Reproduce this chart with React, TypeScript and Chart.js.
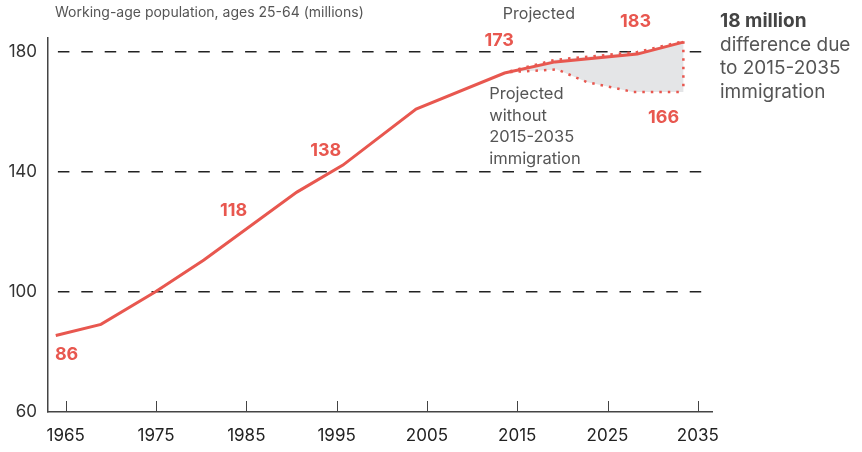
import React, { useEffect, useRef } from "react";
import { Chart, registerables } from "chart.js";

Chart.register(...registerables);

// Solid line (history + projection)
const lineYears = [1963.9, 1968.9, 1974.9, 1980.3, 1990.6, 1995.7, 2003.8, 2013.6, 2019.2, 2028.3, 2033.4];
const lineValues = [85.5, 89.2, 100, 110.7, 133.3, 142.3, 161, 173, 176.7, 179.3, 183.3];

// Projected with immigration (dotted, upper)
const projYears = [2014.2, 2019.2, 2028.3, 2033.4];
const projValues = [173.6, 177.4, 180.0, 183.6];

// Projected without 2015-2035 immigration (dotted, lower)
const noImmYears = [2014.2, 2019.4, 2022.7, 2027.8, 2033.4];
const noImmValues = [173.3, 174.2, 170.0, 166.7, 166.7];

const xTickYears = [1965, 1975, 1985, 1995, 2005, 2015, 2025, 2035];
const yTickValues = [60, 100, 140, 180];

// value labels: [text, year, value]
const valueLabels: [string, number, number][] = [
  ["86", 1965.1, 79],
  ["118", 1983.6, 127],
  ["138", 1993.8, 147],
  ["173", 2013.0, 183.7],
  ["183", 2028.1, 190.3],
  ["166", 2031.2, 158],
];

const RED = "#e8574f";
const FONT = "Inter, 'Open Sans', sans-serif";

const toPts = (xs: number[], ys: number[]) => xs.map((x, i) => ({ x, y: ys[i] }));

export default function App() {
  const ref = useRef<HTMLCanvasElement>(null);

  useEffect(() => {
    const canvas = ref.current!;
    const annot = {
      id: "annot",
      beforeDatasetsDraw(chart: any) {
        const { ctx, scales } = chart;
        const xs = scales.x, ys = scales.y;
        ctx.save();
        ctx.beginPath();
        projYears.forEach((yr, i) => {
          const px = xs.getPixelForValue(yr), py = ys.getPixelForValue(projValues[i]);
          if (i === 0) ctx.moveTo(px, py); else ctx.lineTo(px, py);
        });
        for (let i = noImmYears.length - 1; i >= 0; i--) {
          ctx.lineTo(xs.getPixelForValue(noImmYears[i]), ys.getPixelForValue(noImmValues[i]));
        }
        ctx.closePath();
        ctx.fillStyle = "#e4e5e7";
        ctx.fill();
        ctx.restore();
      },
      afterDraw(chart: any) {
        const { ctx, scales, chartArea } = chart;
        const xs = scales.x, ys = scales.y;
        ctx.save();
        // tick marks pointing up into chart
        ctx.strokeStyle = "#444";
        ctx.lineWidth = 1;
        xTickYears.forEach((yr) => {
          const px = Math.round(xs.getPixelForValue(yr)) + 0.5;
          ctx.beginPath();
          ctx.moveTo(px, chartArea.bottom);
          ctx.lineTo(px, chartArea.bottom - 11);
          ctx.stroke();
        });
        // value labels
        ctx.fillStyle = RED;
        ctx.font = `bold 18px ${FONT}`;
        ctx.textAlign = "center";
        ctx.textBaseline = "middle";
        valueLabels.forEach(([t, yr, v]) => {
          ctx.fillText(t, xs.getPixelForValue(yr), ys.getPixelForValue(v));
        });
        // "Projected"
        ctx.fillStyle = "#555";
        ctx.font = `16px ${FONT}`;
        ctx.fillText("Projected", xs.getPixelForValue(2017.4), 14);
        // Projected without label
        ctx.textAlign = "left";
        ctx.font = `16.5px ${FONT}`;
        const lx = xs.getPixelForValue(2011.9);
        ["Projected", "without", "2015-2035", "immigration"].forEach((s, i) => {
          ctx.fillText(s, lx, 94 + i * 21.7);
        });
        // Title
        ctx.font = `14px ${FONT}`;
        ctx.fillStyle = "#555";
        ctx.fillText("Working-age population, ages 25-64 (millions)", 55, 13);
        // Right note
        ctx.fillStyle = "#444";
        ctx.font = `bold 19px ${FONT}`;
        ctx.fillText("18 million", 720, 21);
        ctx.fillStyle = "#555";
        ctx.font = `19px ${FONT}`;
        ["difference due", "to 2015-2035", "immigration"].forEach((s, i) => {
          ctx.fillText(s, 720, 45 + i * 23.7);
        });
        ctx.restore();
      },
    };

    const chart = new Chart(canvas, {
      type: "line",
      data: {
        datasets: [
          {
            data: toPts(noImmYears, noImmValues),
            borderColor: RED,
            borderWidth: 2.5,
            borderDash: [2.5, 6],
            pointRadius: 0,
            fill: false,
          },
          {
            data: toPts(projYears, projValues),
            borderColor: RED,
            borderWidth: 2.5,
            borderDash: [2.5, 6],
            pointRadius: 0,
            fill: false,
          },
          {
            data: [
              { x: noImmYears[noImmYears.length - 1], y: projValues[projValues.length - 1] },
              { x: noImmYears[noImmYears.length - 1], y: noImmValues[noImmValues.length - 1] },
            ],
            borderColor: RED,
            borderWidth: 2.5,
            borderDash: [2.5, 6],
            pointRadius: 0,
            fill: false,
          },
          {
            data: toPts(lineYears, lineValues),
            borderColor: RED,
            borderWidth: 3,
            pointRadius: 0,
            fill: false,
            tension: 0,
          },
        ],
      },
      options: {
        animation: false,
        responsive: false,
        maintainAspectRatio: false,
        layout: { padding: { top: 38, right: 150, left: 0, bottom: 0 } },
        plugins: { legend: { display: false }, tooltip: { enabled: false } },
        scales: {
          x: {
            type: "linear",
            min: 1963.04,
            max: 2036.57,
            afterBuildTicks: (s: any) => {
              s.ticks = xTickYears.map((v) => ({ value: v }));
            },
            afterFit: (s: any) => {
              s.height = 40;
            },
            grid: { display: false, drawTicks: false },
            border: { display: true, color: "#444", width: 1.5 },
            ticks: {
              padding: 14,
              maxRotation: 0,
              autoSkip: false,
              color: "#222",
              font: { family: FONT, size: 17 },
              callback: (v: any) => String(v),
            },
          },
          y: {
            type: "linear",
            min: 60,
            max: 184.67,
            afterBuildTicks: (s: any) => {
              s.ticks = yTickValues.map((v) => ({ value: v }));
            },
            afterFit: (s: any) => {
              s.width = 48;
            },
            grid: {
              drawTicks: false,
              color: (c: any) => (c.tick && c.tick.value === 60 ? "rgba(0,0,0,0)" : "#222"),
              lineWidth: 1.5,
            },
            border: { display: true, color: "#444", width: 1.5, dash: [11.5, 11.9], dashOffset: 14 },
            ticks: {
              padding: 11,
              color: "#333",
              font: { family: FONT, size: 17 },
              callback: (v: any) => String(v),
            },
          },
        },
      },
      plugins: [annot],
    } as any);
    return () => chart.destroy();
  }, []);

  return (
    <div style={{ position: "fixed", left: 0, top: 0, width: 862, height: 452, background: "#fff" }}>
      <canvas ref={ref} width={862} height={452} style={{ width: 862, height: 452 }} />
    </div>
  );
}
